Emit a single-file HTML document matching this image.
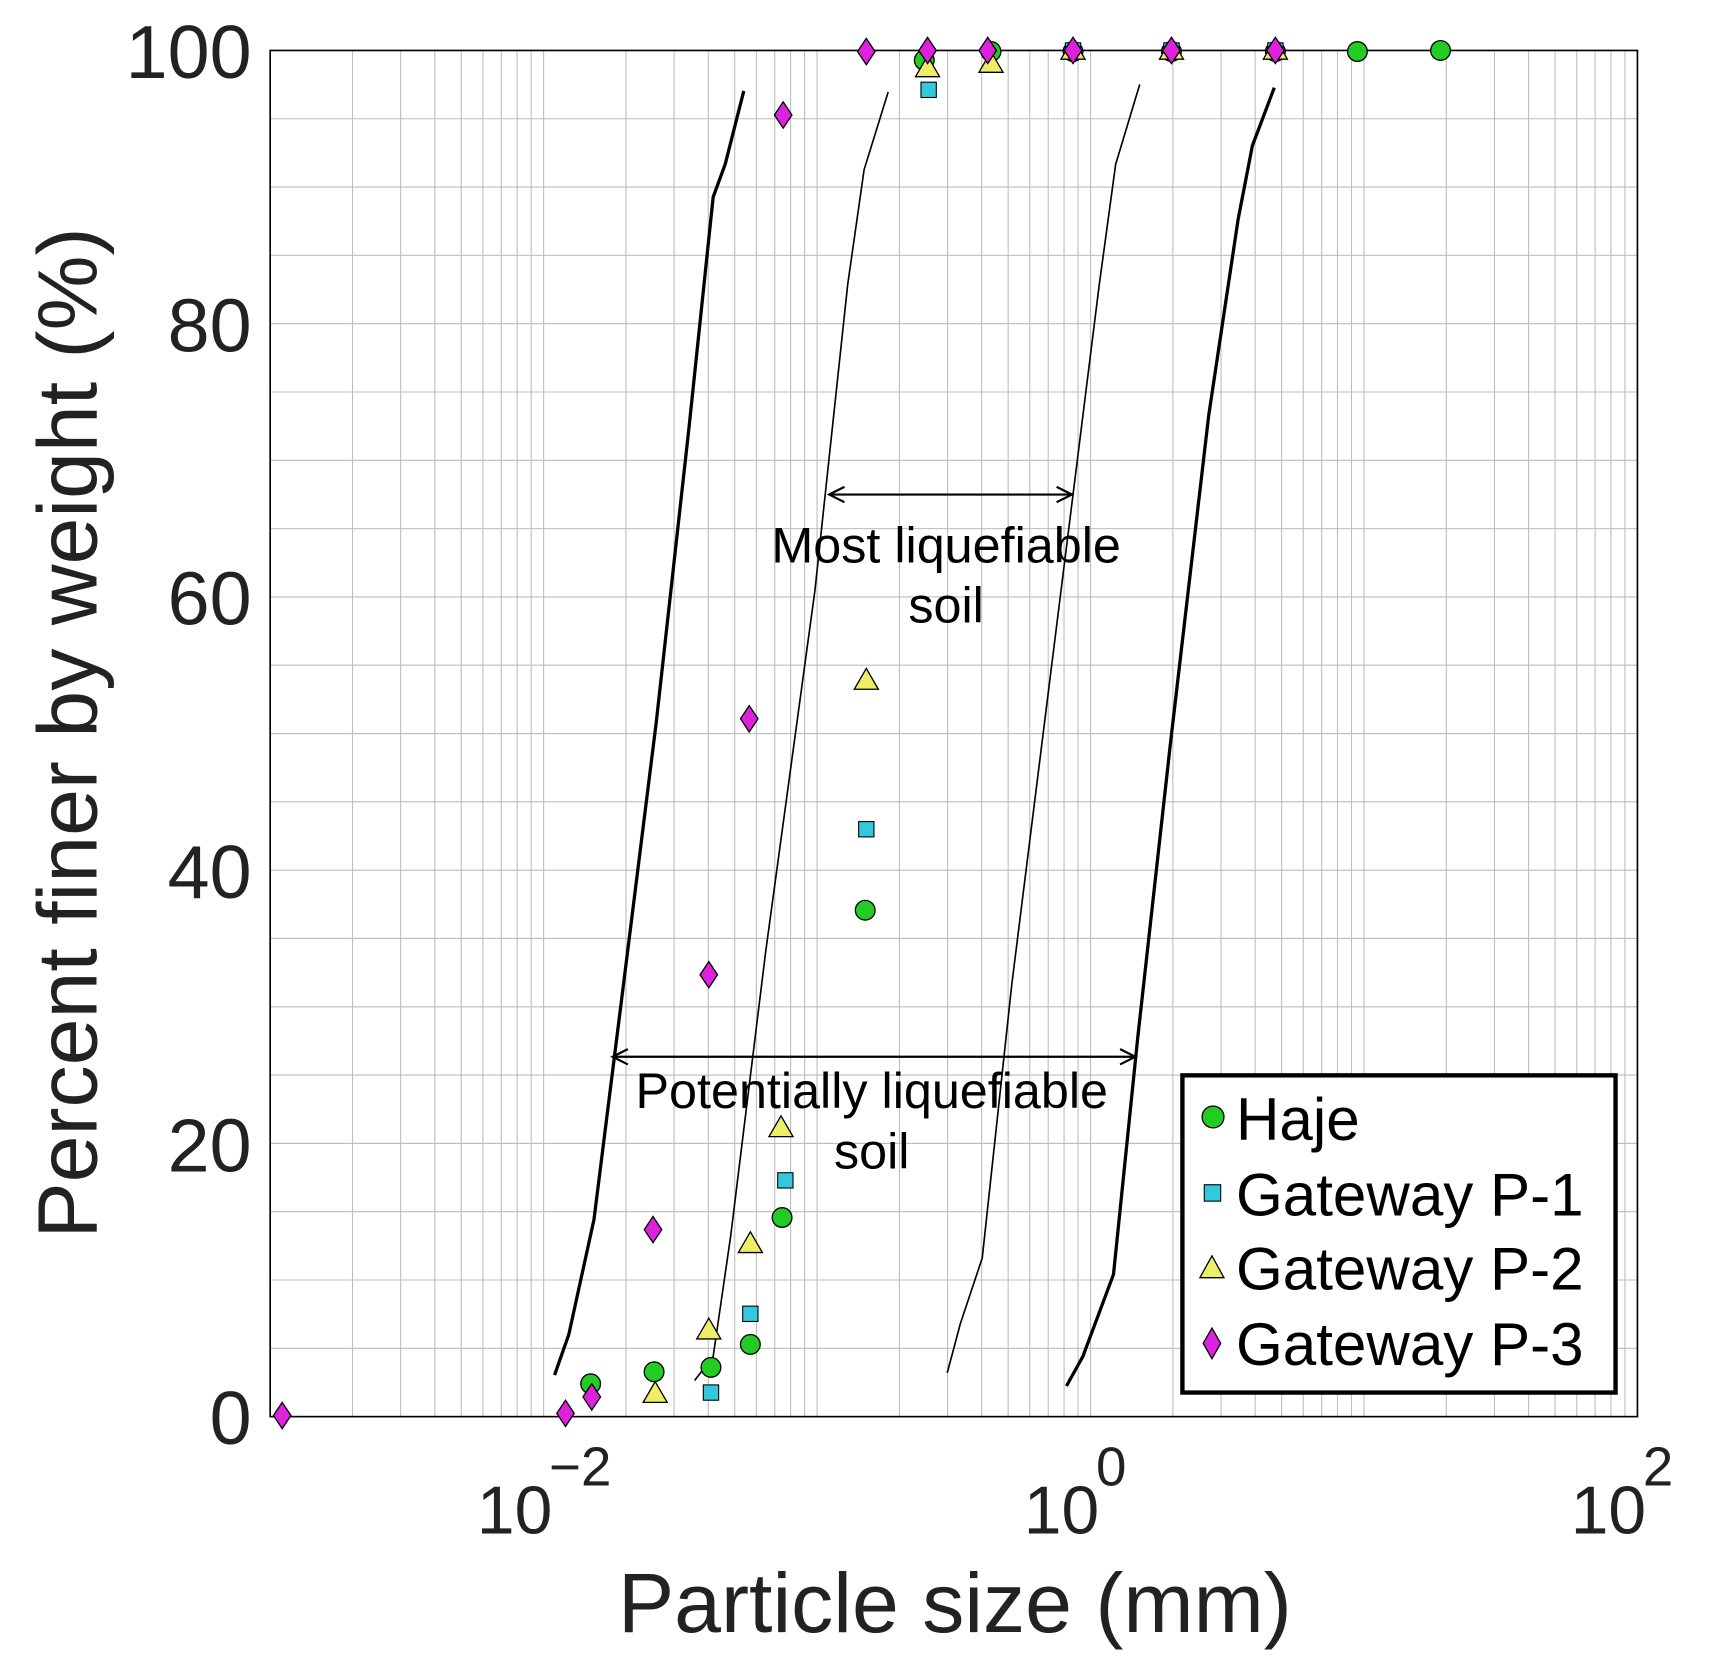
<!DOCTYPE html>
<html><head><meta charset="utf-8"><style>html,body{margin:0;padding:0;background:#fff}svg{display:block}</style></head>
<body>
<svg width="1714" height="1676" viewBox="0 0 1567 1532" xmlns="http://www.w3.org/2000/svg" font-family="Liberation Sans, Arial, sans-serif">
<rect width="1567" height="1532" fill="#fff"/>
<path stroke="#bdbdbd" stroke-width="1" fill="none" d="
M322.3,46V1295M366.3,46V1295M397.5,46V1295M421.7,46V1295M441.5,46V1295M458.3,46V1295M472.8,46V1295M485.6,46V1295M497,46V1295
M572.3,46V1295M616.3,46V1295M647.5,46V1295M671.7,46V1295M691.5,46V1295M708.3,46V1295M722.8,46V1295M735.6,46V1295M747,46V1295
M822.3,46V1295M866.3,46V1295M897.5,46V1295M921.7,46V1295M941.5,46V1295M958.3,46V1295M972.8,46V1295M985.6,46V1295M997,46V1295
M1072.3,46V1295M1116.3,46V1295M1147.5,46V1295M1171.7,46V1295M1191.5,46V1295M1208.3,46V1295M1222.8,46V1295M1235.6,46V1295M1247,46V1295
M1322.3,46V1295M1366.3,46V1295M1397.5,46V1295M1421.7,46V1295M1441.5,46V1295M1458.3,46V1295M1472.8,46V1295M1485.6,46V1295
M247,1232.55H1497M247,1170.1H1497M247,1107.65H1497M247,1045.2H1497M247,982.75H1497M247,920.3H1497M247,857.85H1497M247,795.4H1497M247,732.95H1497M247,670.5H1497M247,608.05H1497M247,545.6H1497M247,483.15H1497M247,420.7H1497M247,358.25H1497M247,295.8H1497M247,233.35H1497M247,170.9H1497M247,108.45H1497"/>
<rect x="247" y="46" width="1250" height="1249" fill="none" stroke="#000" stroke-width="1.5"/>
<g fill="none" stroke="#000">
<polyline stroke-width="3" points="507,1257 520,1220 543,1115 570,900 600,660 630,390 652,180 663,150 680,83"/>
<polyline stroke-width="1.5" points="635,1262 652,1240 668,1130 700,870 745,540 775,260 790,155 812,84"/>
<polyline stroke-width="1.5" points="866,1255 878,1210 898,1150 925,900 970,540 1005,260 1020,150 1042,77"/>
<polyline stroke-width="3" points="975,1267 990,1240 1018,1165 1040,950 1070,680 1105,380 1132,200 1145,133 1165,80"/>
<line x1="760" y1="452" x2="978" y2="452" stroke-width="2"/>
<polyline points="772,445 758,452 772,459" stroke-width="2"/>
<polyline points="966,445 980,452 966,459" stroke-width="2"/>
<line x1="562" y1="966" x2="1036" y2="966" stroke-width="2"/>
<polyline points="574,959 560,966 574,973" stroke-width="2"/>
<polyline points="1024,959 1038,966 1024,973" stroke-width="2"/>
</g>
<g font-size="46" text-anchor="middle" fill="#000">
<text x="865" y="514">Most liquefiable</text><text x="865" y="569">soil</text>
<text x="797" y="1013">Potentially liquefiable</text><text x="797" y="1068">soil</text>
</g>
<g fill="#22cc22" stroke="#000" stroke-width="1.2">
<circle cx="540" cy="1265" r="9"/><circle cx="598" cy="1254" r="9"/><circle cx="650" cy="1250" r="9"/><circle cx="686" cy="1229" r="9"/><circle cx="715" cy="1113" r="9"/><circle cx="791" cy="832" r="9"/><circle cx="845" cy="55" r="9"/><circle cx="906" cy="47" r="9"/><circle cx="981" cy="47" r="9"/><circle cx="1071" cy="47" r="9"/><circle cx="1166" cy="47" r="9"/><circle cx="1241" cy="47" r="9"/><circle cx="1317" cy="46" r="9"/>
</g>
<g fill="#33c8dd" stroke="#000" stroke-width="1">
<rect x="643" y="1266" width="14" height="14"/><rect x="679" y="1194" width="14" height="14"/><rect x="711" y="1072" width="14" height="14"/><rect x="785" y="751" width="14" height="14"/><rect x="842" y="75" width="14" height="14"/><rect x="974" y="39" width="14" height="14"/><rect x="1064" y="39" width="14" height="14"/><rect x="1159" y="39" width="14" height="14"/>
</g>
<g fill="#eeee66" stroke="#000" stroke-width="1.2">
<polygon points="599,1263 588,1282 610,1282"/>
<polygon points="648,1205 637,1224 659,1224"/>
<polygon points="686,1126 675,1145 697,1145"/>
<polygon points="714,1020 703,1039 725,1039"/>
<polygon points="792,611 781,630 803,630"/>
<polygon points="848,51 837,70 859,70"/>
<polygon points="906,47 895,66 917,66"/>
<polygon points="981,35 970,54 992,54"/>
<polygon points="1071,35 1060,54 1082,54"/>
<polygon points="1166,35 1155,54 1177,54"/>
</g>
<g fill="#dd22dd" stroke="#000" stroke-width="1.2">
<polygon points="258,1282 250,1294 258,1306 266,1294"/>
<polygon points="517,1280 509,1292 517,1304 525,1292"/>
<polygon points="541,1265 533,1277 541,1289 549,1277"/>
<polygon points="597,1112 589,1124 597,1136 605,1124"/>
<polygon points="648,879 640,891 648,903 656,891"/>
<polygon points="685,645 677,657 685,669 693,657"/>
<polygon points="716,93 708,105 716,117 724,105"/>
<polygon points="792,35 784,47 792,59 800,47"/>
<polygon points="848,34 840,46 848,58 856,46"/>
<polygon points="903,34 895,46 903,58 911,46"/>
<polygon points="981,34 973,46 981,58 989,46"/>
<polygon points="1071,34 1063,46 1071,58 1079,46"/>
<polygon points="1166,34 1158,46 1166,58 1174,46"/>
</g>
<g font-size="69" text-anchor="end" fill="#222">
<text x="230" y="71">100</text><text x="230" y="321">80</text><text x="230" y="571">60</text><text x="230" y="821">40</text><text x="230" y="1071">20</text><text x="230" y="1320">0</text>
</g>
<g font-size="62" fill="#222">
<text x="436" y="1402">10</text><text x="502" y="1358" font-size="50">−2</text>
<text x="936" y="1402">10</text><text x="1002" y="1358" font-size="50">0</text>
<text x="1436" y="1402">10</text><text x="1502" y="1358" font-size="50">2</text>
</g>
<text x="873" y="1492" font-size="77" text-anchor="middle" fill="#222">Particle size (mm)</text>
<text transform="translate(88,670) rotate(-90)" font-size="77" text-anchor="middle" fill="#222">Percent finer by weight (%)</text>
<rect x="1081" y="983" width="396" height="290" fill="#fff" stroke="#000" stroke-width="4"/>
<circle cx="1109" cy="1021" r="10" fill="#22cc22" stroke="#000" stroke-width="1.2"/>
<rect x="1101" y="1083" width="15" height="15" fill="#33c8dd" stroke="#000"/>
<polygon points="1108,1148 1097,1168 1119,1168" fill="#eeee66" stroke="#000" stroke-width="1.2"/>
<polygon points="1108,1214 1100,1228 1108,1242 1116,1228" fill="#dd22dd" stroke="#000" stroke-width="1.2"/>
<g font-size="55" fill="#000">
<text x="1130" y="1042">Haje</text><text x="1130" y="1111">Gateway P-1</text><text x="1130" y="1179">Gateway P-2</text><text x="1130" y="1248">Gateway P-3</text>
</g>
</svg>
</body></html>
